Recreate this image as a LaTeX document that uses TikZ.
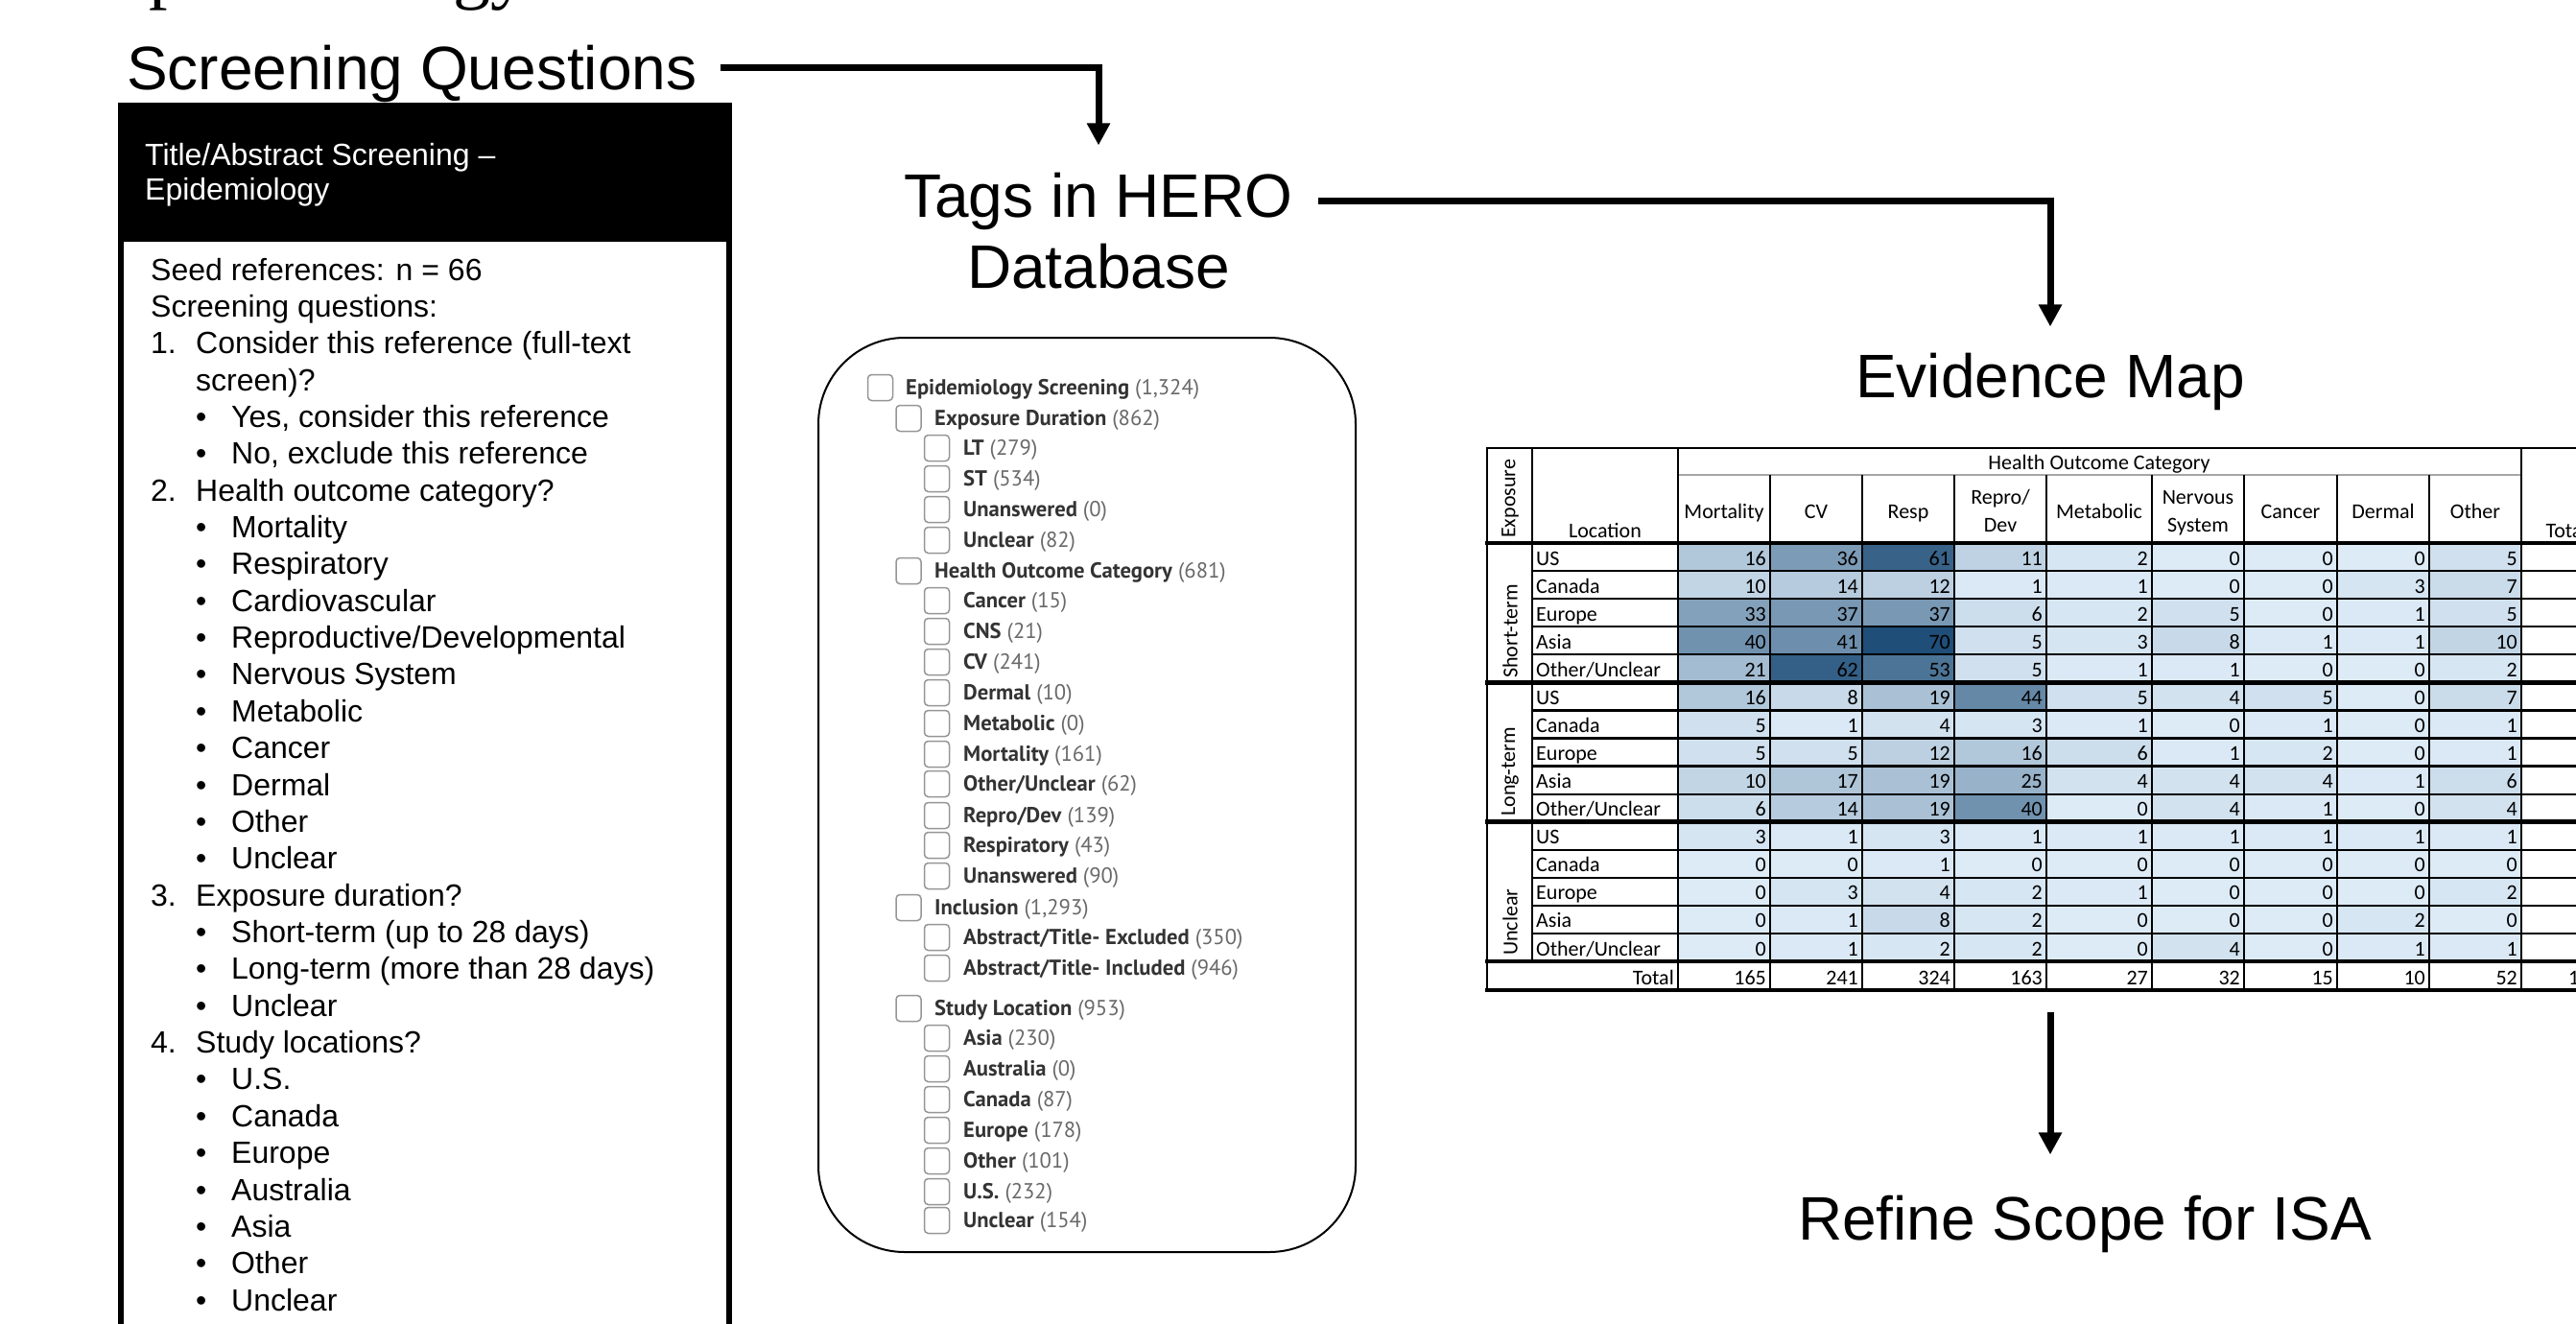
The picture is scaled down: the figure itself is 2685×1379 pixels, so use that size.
\documentclass[tikz,border=0pt]{standalone}
\usepackage{fontspec}
\setmainfont{Liberation Sans}
\newfontfamily\serifont{Liberation Serif}
\newfontfamily\tagfont{PT Sans}
\newfontfamily\calfont{Carlito}
\usetikzlibrary{arrows.meta}
\definecolor{cmin}{RGB}{221,235,247}
\definecolor{cmax}{RGB}{31,78,120}
\definecolor{taglab}{RGB}{51,51,51}
\definecolor{tagcnt}{RGB}{105,105,105}
\definecolor{boxgray}{RGB}{150,150,150}
\begin{document}
\begin{tikzpicture}[x=1pt,y=-1pt,
  title/.style={inner sep=0pt,font=\fontsize{64}{74}\selectfont},
  conn/.style={line width=7pt,-{Triangle[length=23pt,width=23pt]}},
  body/.style={inner sep=0pt,anchor=base west,font=\fontsize{32}{38}\selectfont},
  hdr/.style={body,text=white},
  tagl/.style={inner sep=0pt,anchor=base west,font=\tagfont\fontsize{22.6}{26}\selectfont,text=taglab},
  cbox/.style={draw=boxgray,line width=1.5pt,rounded corners=4pt,minimum width=26pt,minimum height=27pt,inner sep=0pt},
  tcell/.style={inner sep=0pt,font=\calfont\fontsize{22}{26}\selectfont},
  thinl/.style={line width=2.2pt},
  thickl/.style={line width=4.5pt},
]
\useasboundingbox (0,0) rectangle (2685,1379);
\clip (0,0) rectangle (2685,1379);
\fill[white] (0,0) rectangle (2685,1379);

% cropped title at the very top
\node[inner sep=0pt,anchor=base west,font=\serifont\fontsize{78}{90}\selectfont] (toptitle) at (108,-6) {Epidemiology};

% step titles
\node[title,anchor=base west] (sq) at (132,93) {Screening Questions};
\node[title,anchor=base] (tags) at (1145,226) {Tags in HERO};
\node[title,anchor=base] (tags2) at (1145,300) {Database};
\node[title,anchor=base] (em) at (2137,414) {Evidence Map};
\node[title,anchor=base] (rs) at (2173,1292) {Refine Scope for ISA};

% connectors
\draw[conn] ([xshift=24pt,yshift=6pt]sq.east) -| ([yshift=28pt]tags.north);
\draw[conn] ([xshift=26pt]tags.east) -| ([yshift=27pt]em.north);
\coordinate (tabbot) at (2137,1055);
\draw[conn] (tabbot) -- ([yshift=42pt]tabbot |- rs.north);

% left box
\fill[black] (123,107) rectangle (763,252);
\draw[line width=6pt] (126,250) -- (126,1400);
\draw[line width=6pt] (760,250) -- (760,1400);
\node[hdr] (hd1) at (151,172) {Title/Abstract Screening \textendash};
\node[hdr] (hd2) at (151,208) {Epidemiology};
\foreach \i/\t in {1/{Seed references: n = 66},2/{Screening questions:}}
  \node[body] (pl\i) at (157,{292+(\i-1)*38.36}) {\t};
\foreach \i/\t in {3/1.,7/2.,18/3.,22/4.}
  \node[body] (num\i) at (157,{292+(\i-1)*38.36}) {\t};
\foreach \i/\t in {3/{Consider this reference (full-text},4/{screen)?},7/{Health outcome category?},18/{Exposure duration?},22/{Study locations?}}
  \node[body] (qt\i) at (204,{292+(\i-1)*38.36}) {\t};
\foreach \i/\t in {5/{Yes, consider this reference},6/{No, exclude this reference},8/Mortality,9/Respiratory,10/Cardiovascular,11/{Reproductive/Developmental},12/{Nervous System},13/Metabolic,14/Cancer,15/Dermal,16/Other,17/Unclear,19/{Short-term (up to 28 days)},20/{Long-term (more than 28 days)},21/Unclear,23/U.S.,24/Canada,25/Europe,26/Australia,27/Asia,28/Other,29/Unclear}
{
  \node[body] (bl\i) at (204,{292+(\i-1)*38.36}) {•};
  \node[body] (bt\i) at (241,{292+(\i-1)*38.36}) {\t};
}

% HERO tag tree
\draw[line width=2pt,rounded corners=90pt] (853,352) rectangle (1413,1305);
\foreach \lv/\yc/\lab/\cnt [count=\n] in {
0/404/{Epidemiology Screening}/{(1,324)},
1/436/{Exposure Duration}/{(862)},
2/467/LT/{(279)},
2/499/ST/{(534)},
2/531/Unanswered/{(0)},
2/563/Unclear/{(82)},
1/595/{Health Outcome Category}/{(681)},
2/626/Cancer/{(15)},
2/658/CNS/{(21)},
2/690/CV/{(241)},
2/722/Dermal/{(10)},
2/754/Metabolic/{(0)},
2/786/Mortality/{(161)},
2/817/{Other/Unclear}/{(62)},
2/850/{Repro/Dev}/{(139)},
2/881/Respiratory/{(43)},
2/913/Unanswered/{(90)},
1/946/Inclusion/{(1,293)},
2/977/{Abstract/Title- Excluded}/{(350)},
2/1009/{Abstract/Title- Included}/{(946)},
1/1051/{Study Location}/{(953)},
2/1082/Asia/{(230)},
2/1114/Australia/{(0)},
2/1146/Canada/{(87)},
2/1178/Europe/{(178)},
2/1210/Other/{(101)},
2/1242/U.S./{(232)},
2/1272/Unclear/{(154)}}
{
  \node[cbox] (cb\n) at ({917.5+29.5*\lv},\yc) {};
  \node[tagl] (tl\n) at ({944+30*\lv},\yc+7.5) {\textbf{\lab}\ \textcolor{tagcnt}{\cnt}};
}

% evidence map table: cells
\def\cx{{1749,1845,1941,2037,2133,2243,2339,2436,2532,2628}}
\foreach \v [count=\n from 0] in {
16,36,61,11,2,0,0,0,5,
10,14,12,1,1,0,0,3,7,
33,37,37,6,2,5,0,1,5,
40,41,70,5,3,8,1,1,10,
21,62,53,5,1,1,0,0,2,
16,8,19,44,5,4,5,0,7,
5,1,4,3,1,0,1,0,1,
5,5,12,16,6,1,2,0,1,
10,17,19,25,4,4,4,1,6,
6,14,19,40,0,4,1,0,4,
3,1,3,1,1,1,1,1,1,
0,0,1,0,0,0,0,0,0,
0,3,4,2,1,0,0,0,2,
0,1,8,2,0,0,0,2,0,
0,1,2,2,0,4,0,1,1}
{
  \pgfmathtruncatemacro\ri{int(\n/9)}
  \pgfmathtruncatemacro\ci{mod(\n,9)}
  \pgfmathsetmacro\xl{\cx[\ci]}
  \pgfmathsetmacro\xr{\cx[\ci+1]}
  \pgfmathsetmacro\yt{566+\ri*29.0667}
  \pgfmathsetmacro\yb{\yt+29.0667}
  \pgfmathtruncatemacro\pc{round(\v*100/70)}
  \fill[cmax!\pc!cmin] (\xl,\yt) rectangle (\xr,\yb);
  \node[tcell,anchor=base east] (v\n) at (\xr-4,\yb-6) {\v};
}
% row labels
\foreach \lab [count=\n from 0] in {US,Canada,Europe,Asia,Other/Unclear,US,Canada,Europe,Asia,Other/Unclear,US,Canada,Europe,Asia,Other/Unclear}
{
  \pgfmathsetmacro\yb{566+(\n+1)*29.0667}
  \node[tcell,anchor=base west] (loc\n) at (1601,\yb-6) {\lab};
}
% totals row
\node[tcell,anchor=base east] (totlab) at (1745,1026) {Total};
\foreach \v [count=\n from 0] in {165,241,324,163,27,32,15,10,52}
{
  \pgfmathsetmacro\xr{\cx[\n+1]}
  \node[tcell,anchor=base east] (tot\n) at (\xr-4,1026) {\v};
}
\node[tcell,anchor=base east] (totall) at (2722,1026) {1029};

% headers
\node[tcell,anchor=base] (hcat) at (2188,489) {Health Outcome Category};
\node[tcell,anchor=base] (hloc) at (1673,560) {Location};
\node[tcell,anchor=base] (htot) at (2675,560) {Total};
\node[tcell,rotate=90,anchor=west] (hexp) at (1574,561) {Exposure};
\node[tcell,rotate=90,anchor=west] (gst) at (1574,707) {Short-term};
\node[tcell,rotate=90,anchor=west] (glt) at (1574,851) {Long-term};
\node[tcell,rotate=90,anchor=west] (gun) at (1574,996) {Unclear};
\foreach \x/\t in {1797/Mortality,1893/CV,1989/Resp,2188/Metabolic,2387.5/Cancer,2484/Dermal,2580/Other}
  \node[tcell,anchor=base] (h\t) at (\x,540) {\t};
\node[tcell,anchor=base] (hrep1) at (2085,525) {Repro/};
\node[tcell,anchor=base] (hrep2) at (2085,554) {Dev};
\node[tcell,anchor=base] (hner1) at (2291,525) {Nervous};
\node[tcell,anchor=base] (hner2) at (2291,554) {System};

% grid
\draw[thinl] (1549,467) -- (2740,467);
\draw[line width=2pt,gray!70] (1749,495) -- (2628,495);
\foreach \n in {1,2,3,4,6,7,8,9,11,12,13,14}
  \draw[thinl] (1597,{566+\n*29.0667}) -- (2740,{566+\n*29.0667});
\foreach \y in {566,711.33,856.67,1002,1032}
  \draw[thickl] (1548,\y) -- (2740,\y);
\draw[thinl] (1550,466) -- (1550,1034);
\draw[thinl] (1597,466) -- (1597,1002);
\draw[thinl] (1749,466) -- (1749,1034);
\foreach \x in {1845,1941,2037,2133,2243,2339,2436,2532}
  \draw[thinl] (\x,495) -- (\x,1034);
\draw[thinl] (2628,466) -- (2628,1034);
\end{tikzpicture}
\end{document}
